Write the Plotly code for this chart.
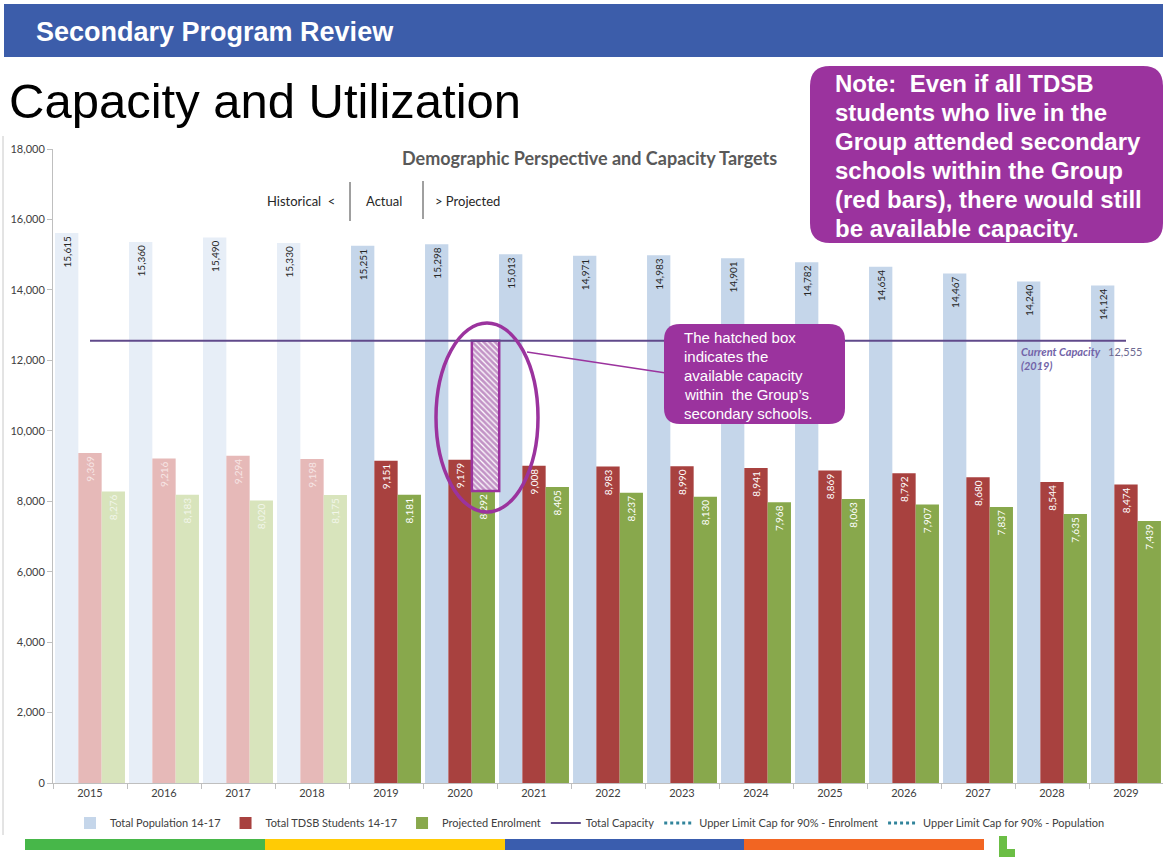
import plotly.graph_objects as go

# ---------------- data ----------------
years = ["2015", "2016", "2017", "2018", "2019", "2020", "2021", "2022",
         "2023", "2024", "2025", "2026", "2027", "2028", "2029"]
n_hist = 4  # 2015-2018 historical (lighter colours)
population = [15615, 15360, 15490, 15330, 15251, 15298, 15013, 14971,
              14983, 14901, 14782, 14654, 14467, 14240, 14124]
tdsb_students = [9369, 9216, 9294, 9198, 9151, 9179, 9008, 8983,
                 8990, 8941, 8869, 8792, 8680, 8544, 8474]
enrolment = [8276, 8183, 8020, 8175, 8181, 8292, 8405, 8237,
             8130, 7968, 8063, 7907, 7837, 7635, 7439]
capacity = [12555, 12555, 12555, 12555, 12555, 12555, 12555, 12555,
            12555, 12555, 12555, 12555, 12555, 12555, 12555]
upper_enrol = [None]
upper_pop = [None]
hatch_year = "2020"
y_tick_vals = [0, 2000, 4000, 6000, 8000, 10000, 12000, 14000, 16000, 18000]

# ---------------- geometry ----------------
W, H = 1163, 857
L, R, T, B = 53, 0, 149, 74


def X(px):
    return (px - L) / (W - L - R)


def Y(py):
    return (H - B - py) / (H - T - B)


def rrect(x0, y0, x1, y1, r):
    p = [("M", x0 + r, y0), ("L", x1 - r, y0), ("Q", x1, y0, x1, y0 + r),
         ("L", x1, y1 - r), ("Q", x1, y1, x1 - r, y1), ("L", x0 + r, y1),
         ("Q", x0, y1, x0, y1 - r), ("L", x0, y0 + r), ("Q", x0, y0, x0 + r, y0)]
    s = ""
    for seg in p:
        cmd = seg[0]
        coords = seg[1:]
        parts = []
        for i in range(0, len(coords), 2):
            parts.append(f"{X(coords[i]):.5f},{Y(coords[i+1]):.5f}")
        s += cmd + " " + " ".join(parts) + " "
    return s + "Z"


BW = 0.315
FONT = "Lato"
ARIAL = "Liberation Sans"
PURPLE = "#9B339E"

hist_cols = {"pop": "#E7EEF7", "tdsb": "#E6B9B8", "enr": "#D8E4BC"}
proj_cols = {"pop": "#C5D6EA", "tdsb": "#A8413F", "enr": "#88A84C"}

fig = go.Figure()


def bars(xs, ys, color, offset, name, show, txtcol):
    fig.add_trace(go.Bar(
        x=xs, y=ys, name=name, showlegend=show, legendgroup=name,
        marker=dict(color=color, line=dict(width=0)),
        width=BW, offset=offset,
        text=[f"{v:,}" for v in ys], textposition="inside",
        insidetextanchor="end", textangle=-90,
        textfont=dict(family=FONT, size=10, color=txtcol),
        hoverinfo="x+y"))


hy, py_ = years[:n_hist], years[n_hist:]
bars(py_, population[n_hist:], proj_cols["pop"], -0.4725, "Total Population 14-17", True, "#262626")
bars(py_, tdsb_students[n_hist:], proj_cols["tdsb"], -0.1575, "Total TDSB Students 14-17", True, "white")
bars(py_, enrolment[n_hist:], proj_cols["enr"], 0.1575, "Projected Enrolment", True, "white")
bars(hy, population[:n_hist], hist_cols["pop"], -0.4725, "Total Population 14-17", False, "#262626")
bars(hy, tdsb_students[:n_hist], hist_cols["tdsb"], -0.1575, "Total TDSB Students 14-17", False, "#F7E6E6")
bars(hy, enrolment[:n_hist], hist_cols["enr"], 0.1575, "Projected Enrolment", False, "#F2F6EA")

fig.add_trace(go.Scatter(x=years, y=capacity, mode="lines", name="Total Capacity",
                         line=dict(color="#604A8B", width=2)))
fig.add_trace(go.Scatter(x=[None], y=upper_enrol, mode="lines",
                         name="Upper Limit Cap for 90% - Enrolment",
                         line=dict(color="#31849B", width=3, dash="dot")))
fig.add_trace(go.Scatter(x=[None], y=upper_pop, mode="lines",
                         name="Upper Limit Cap for 90% - Population",
                         line=dict(color="#31849B", width=3, dash="dot")))

hi = years.index(hatch_year)
fig.add_trace(go.Bar(
    x=[hatch_year], y=[capacity[hi] - enrolment[hi]], base=[enrolment[hi]],
    width=0.37, offset=0.16, showlegend=False, hoverinfo="skip",
    marker=dict(color="white", line=dict(color=PURPLE, width=2.5),
                pattern=dict(shape="\\", fgcolor="#86288E", bgcolor="white",
                             size=4, solidity=0.7))))

shapes = []
annotations = []

# header bar
shapes.append(dict(type="rect", xref="paper", yref="paper", x0=X(4), x1=X(1163),
                   y0=Y(4), y1=Y(57), fillcolor="#3C5DAA", line=dict(width=0), layer="above"))
annotations.append(dict(text="<b>Secondary Program Review</b>", xref="paper", yref="paper",
                        x=X(34), y=Y(32), xanchor="left", yanchor="middle", showarrow=False,
                        font=dict(family=ARIAL, size=27, color="white")))
annotations.append(dict(text="Capacity and Utilization", xref="paper", yref="paper",
                        x=X(7), y=Y(101), xanchor="left", yanchor="middle", showarrow=False,
                        font=dict(family=ARIAL, size=49, color="black")))

# left frame line
shapes.append(dict(type="line", xref="paper", yref="paper", x0=X(3), x1=X(3),
                   y0=Y(136), y1=Y(835), line=dict(color="#C8C8C8", width=1)))

# chart title and period labels
annotations.append(dict(text="<b>Demographic Perspective and Capacity Targets</b>", xref="paper",
                        yref="paper", x=X(589), y=Y(158), xanchor="center", yanchor="middle",
                        showarrow=False, font=dict(family=FONT, size=18, color="#595959")))
for txt, xc in [("Historical&nbsp;&nbsp;&lt;", 301), ("Actual", 384), ("&gt; Projected", 467)]:
    annotations.append(dict(text=txt, xref="paper", yref="paper", x=X(xc), y=Y(201),
                            xanchor="center", yanchor="middle", showarrow=False,
                            font=dict(family=FONT, size=13, color="#262626")))
for xl, ya, yb in [(350, 182, 221), (423, 181, 219)]:
    shapes.append(dict(type="line", xref="paper", yref="paper", x0=X(xl), x1=X(xl),
                       y0=Y(ya), y1=Y(yb), line=dict(color="#404040", width=1)))

# capacity label
annotations.append(dict(text="<i><b>Current Capacity</b></i>", xref="paper", yref="paper",
                        x=X(1019), y=Y(351), xanchor="left", yanchor="middle", showarrow=False,
                        font=dict(family=FONT, size=11, color="#7264A8")))
annotations.append(dict(text="<i><b>(2019)</b></i>", xref="paper", yref="paper",
                        x=X(1019), y=Y(365), xanchor="left", yanchor="middle", showarrow=False,
                        font=dict(family=FONT, size=11, color="#7264A8")))
annotations.append(dict(text=f"{capacity[-1]:,}", xref="paper", yref="paper",
                        x=X(1106), y=Y(351), xanchor="left", yanchor="middle", showarrow=False,
                        font=dict(family=FONT, size=11, color="#6D6A92")))

# ellipse and connector
shapes.append(dict(type="circle", xref="paper", yref="paper", x0=X(436), x1=X(538),
                   y0=Y(323), y1=Y(512), line=dict(color=PURPLE, width=3.5)))
shapes.append(dict(type="line", xref="paper", yref="paper", x0=X(527), x1=X(666),
                   y0=Y(352), y1=Y(373), line=dict(color=PURPLE, width=1.5)))

# callout box
shapes.append(dict(type="path", xref="paper", yref="paper", path=rrect(664, 324, 845, 424, 16),
                   fillcolor=PURPLE, line=dict(width=0)))
for i, line in enumerate(["The hatched box", "indicates the", "available capacity",
                          "within\u00a0 the Group\u2019s", "secondary schools."]):
    annotations.append(dict(text=line, xref="paper", yref="paper", x=X(682),
                            y=Y(337 + i * 19), xanchor="left", yanchor="middle",
                            showarrow=False, font=dict(family=ARIAL, size=15, color="white")))

# note box
shapes.append(dict(type="path", xref="paper", yref="paper", path=rrect(810, 66, 1163, 243, 20),
                   fillcolor=PURPLE, line=dict(width=0)))
for i, line in enumerate(["Note:\u00a0 Even if all TDSB", "students who live in the",
                          "Group attended secondary", "schools within the Group",
                          "(red bars), there would still", "be available capacity."]):
    annotations.append(dict(text=f"<b>{line}</b>", xref="paper", yref="paper", x=X(833),
                            y=Y(84 + i * 28.8), xanchor="left", yanchor="middle",
                            showarrow=False, font=dict(family=ARIAL, size=24, color="white")))

# bottom stripes
for x0, x1, c in [(25, 265, "#47B749"), (265, 505, "#FFCB05"),
                  (505, 744, "#3A5DAE"), (744, 984, "#F26522")]:
    shapes.append(dict(type="rect", xref="paper", yref="paper", x0=X(x0), x1=X(x1),
                       y0=Y(839), y1=Y(850), fillcolor=c, line=dict(width=0)))
shapes.append(dict(type="path", xref="paper", yref="paper",
                   path=f"M {X(999)},{Y(836)} L {X(1007)},{Y(836)} L {X(1007)},{Y(849)} "
                        f"L {X(1015)},{Y(849)} L {X(1015)},{Y(857)} L {X(999)},{Y(857)} Z",
                   fillcolor="#6BBE45", line=dict(width=0)))

fig.update_layout(
    width=W, height=H, autosize=False,
    margin=dict(l=L, r=R, t=T, b=B),
    paper_bgcolor="white", plot_bgcolor="white",
    barmode="overlay",
    font=dict(family=FONT, size=11, color="#404040"),
    xaxis=dict(type="category", categoryorder="array", categoryarray=years,
               showline=True, linecolor="#BFBFBF", linewidth=1,
               ticks="outside", tickson="boundaries", ticklen=5, tickcolor="#BFBFBF",
               showgrid=False, tickfont=dict(family=FONT, size=11, color="#404040")),
    yaxis=dict(range=[0, 18000], tickvals=y_tick_vals, tickformat=",",
               showline=True, linecolor="#BFBFBF", linewidth=1, ticks="outside",
               ticklen=5, tickcolor="#BFBFBF", showgrid=False, zeroline=False,
               tickfont=dict(family=FONT, size=11, color="#404040")),
    legend=dict(orientation="h", x=X(590), xanchor="center", y=Y(823), yanchor="middle",
                font=dict(family=FONT, size=11, color="#404040"), itemwidth=30,
                bgcolor="rgba(0,0,0,0)", traceorder="normal"),
    shapes=shapes, annotations=annotations,
)

fig.write_html("out.html", config={"displayModeBar": False},
               post_script="document.body.style.margin='0';document.body.style.overflow='hidden';")
